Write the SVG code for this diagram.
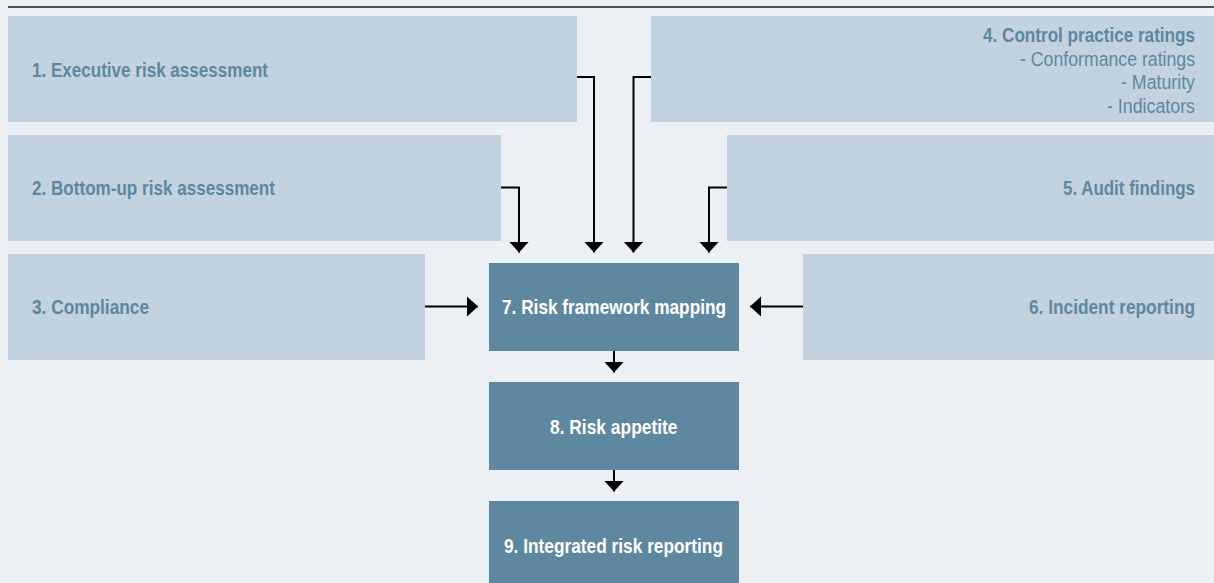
<svg xmlns="http://www.w3.org/2000/svg" width="1214" height="583" viewBox="0 0 1214 583">
  <defs>
    <style>
      .bg { fill: #eceff4; }
      .src { fill: #c2d3df; }
      .core { fill: #5e87a0; }
      .lbl { font-family: "Liberation Sans Narrow", "Liberation Sans", Arial, sans-serif; font-size: 20.5px; font-weight: bold; fill: #5e87a0; }
      .sub { font-weight: normal; }
      .core-lbl { fill: #ffffff; }
      .wire { fill: none; stroke: #000000; stroke-width: 2; }
    </style>
    <marker id="head" markerUnits="userSpaceOnUse" markerWidth="12" markerHeight="22" viewBox="0 0 12 22" refX="11" refY="11" orient="auto">
      <path d="M0,1 L11,11 L0,21 Z" fill="#000000"/>
    </marker>
  </defs>

  <rect class="bg" x="0" y="0" width="1214" height="583"/>
  <line x1="8" y1="7" x2="1214" y2="7" stroke="#1a1a1a" stroke-width="1.5"/>

  <g id="node-1">
    <rect class="src" x="8" y="16" width="569" height="106"/>
    <text class="lbl" x="32" y="76.5" textLength="236" lengthAdjust="spacingAndGlyphs">1. Executive risk assessment</text>
  </g>
  <g id="node-2">
    <rect class="src" x="8" y="135" width="493" height="106"/>
    <text class="lbl" x="32" y="195" textLength="243" lengthAdjust="spacingAndGlyphs">2. Bottom-up risk assessment</text>
  </g>
  <g id="node-3">
    <rect class="src" x="8" y="254" width="417" height="106"/>
    <text class="lbl" x="32" y="314" textLength="117" lengthAdjust="spacingAndGlyphs">3. Compliance</text>
  </g>
  <g id="node-4">
    <rect class="src" x="651" y="16" width="563" height="106"/>
    <text class="lbl" x="1195" y="42" text-anchor="end" textLength="212" lengthAdjust="spacingAndGlyphs">4. Control practice ratings</text>
    <text class="lbl sub" x="1195" y="65.5" text-anchor="end" textLength="175" lengthAdjust="spacingAndGlyphs">- Conformance ratings</text>
    <text class="lbl sub" x="1195" y="89" text-anchor="end" textLength="74" lengthAdjust="spacingAndGlyphs">- Maturity</text>
    <text class="lbl sub" x="1195" y="112.5" text-anchor="end" textLength="88" lengthAdjust="spacingAndGlyphs">- Indicators</text>
  </g>
  <g id="node-5">
    <rect class="src" x="727" y="135" width="487" height="106"/>
    <text class="lbl" x="1195" y="195" text-anchor="end" textLength="132" lengthAdjust="spacingAndGlyphs">5. Audit findings</text>
  </g>
  <g id="node-6">
    <rect class="src" x="803" y="254" width="411" height="106"/>
    <text class="lbl" x="1195" y="314" text-anchor="end" textLength="166" lengthAdjust="spacingAndGlyphs">6. Incident reporting</text>
  </g>
  <g id="node-7">
    <rect class="core" x="489" y="263" width="250" height="88"/>
    <text class="lbl core-lbl" x="502" y="313.5" textLength="224" lengthAdjust="spacingAndGlyphs">7. Risk framework mapping</text>
  </g>
  <g id="node-8">
    <rect class="core" x="489" y="382" width="250" height="88"/>
    <text class="lbl core-lbl" x="550" y="434" textLength="127.5" lengthAdjust="spacingAndGlyphs">8. Risk appetite</text>
  </g>
  <g id="node-9">
    <rect class="core" x="489" y="501" width="250" height="88"/>
    <text class="lbl core-lbl" x="504" y="553" textLength="219" lengthAdjust="spacingAndGlyphs">9. Integrated risk reporting</text>
  </g>

  <g id="connectors">
    <path class="wire" d="M577,77 H594 V252.5" marker-end="url(#head)"/>
    <path class="wire" d="M651,77 H633.5 V252.5" marker-end="url(#head)"/>
    <path class="wire" d="M501,187.5 H519 V252.5" marker-end="url(#head)"/>
    <path class="wire" d="M727,187.5 H709 V252.5" marker-end="url(#head)"/>
    <path class="wire" d="M425,306.5 H478" marker-end="url(#head)"/>
    <path class="wire" d="M803,306.5 H750" marker-end="url(#head)"/>
    <path class="wire" d="M614,351 V372.5" marker-end="url(#head)"/>
    <path class="wire" d="M614,470 V491.5" marker-end="url(#head)"/>
  </g>
</svg>
